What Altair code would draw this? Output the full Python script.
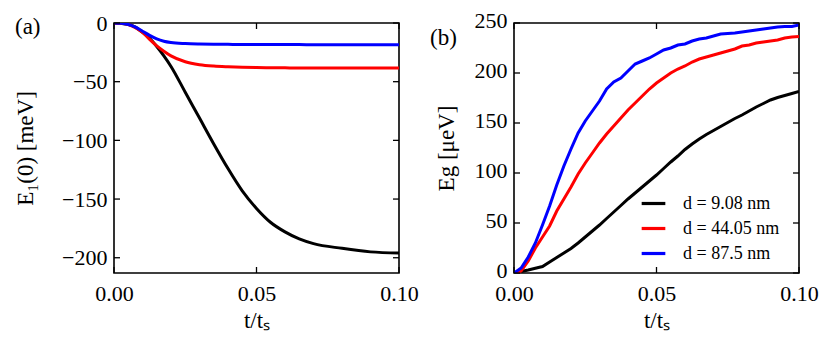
import altair as alt
import pandas as pd

labels = ["d = 9.08 nm", "d = 44.05 nm", "d = 87.5 nm"]
colors = ["#000000", "#ff0000", "#0000ff"]

# Panel (a): E1(0) [meV] vs t/ts
t_a = [0, 0.0025, 0.005, 0.0075, 0.01, 0.0125, 0.015, 0.0175, 0.02, 0.025, 0.03,
       0.035, 0.04, 0.045, 0.05, 0.055, 0.06, 0.065, 0.07, 0.08, 0.09, 0.1]
a_black = [0, -0.3, -1.2, -3.5, -8, -13, -20, -28, -37, -59, -81,
           -103, -124, -143, -158, -170, -178, -184, -188, -192, -195, -196]
a_red = [0, -0.3, -1.3, -4, -8, -14, -19.5, -24, -28, -33, -35.5,
         -36.7, -37.3, -37.7, -38, -38.1, -38.2, -38.3, -38.3, -38.4, -38.4, -38.4]
a_blue = [0, -0.3, -1.3, -3.5, -7, -10.5, -13.5, -15.5, -16.6, -17.5, -17.9,
          -18.1, -18.2, -18.3, -18.3, -18.4, -18.4, -18.4, -18.5, -18.5, -18.5, -18.5]

# Panel (b): Eg [ueV] vs t/ts
t_b = [0, 0.0025, 0.005, 0.0075, 0.01, 0.0125, 0.015, 0.0175, 0.02, 0.0225,
       0.025, 0.0275, 0.03, 0.0325, 0.035, 0.0375, 0.04, 0.0425, 0.045, 0.0475,
       0.05, 0.0525, 0.055, 0.0575, 0.06, 0.0625, 0.065, 0.0675, 0.07, 0.0725,
       0.075, 0.0775, 0.08, 0.0825, 0.085, 0.0875, 0.09, 0.0925, 0.095, 0.0975, 0.1]
b_black = [0, 1.5, 3, 4.8, 6.5, 11, 15.5, 20, 24.5, 30,
           36, 42, 48, 54.5, 61, 67.5, 74, 80, 86, 92,
           98, 104.5, 111, 117, 123.5, 129, 134, 138.5, 142.5, 146.5,
           150.5, 154.5, 158, 162, 166, 169.5, 173, 175.5, 177.5, 179.5, 181.5]
b_red = [0, 2, 12, 25, 36, 47, 62, 74, 86, 99,
         110, 120, 130, 139, 147, 155, 163, 170, 177, 184,
         190, 195, 200, 204, 207, 211, 214, 216, 218, 220,
         222, 224, 227, 228, 230, 231, 232, 233, 235, 236, 236.5]
b_blue = [0, 5, 16, 30, 48, 67, 88, 107, 124, 140,
          152, 162, 172, 184, 191, 195, 202, 209, 212, 215,
          219, 223, 225, 228, 229, 232, 234, 235, 237, 239,
          239.5, 240, 241, 242, 243, 244, 245, 246, 246.5, 246.5, 248]

x_ticks = [0, 0.05, 0.1]
y_ticks_a = [0, -50, -100, -150, -200]
y_ticks_b = [0, 50, 100, 150, 200, 250]


def long_df(t, series):
    rows = []
    for lab, vals in zip(labels, series):
        for ti, v in zip(t, vals):
            rows.append({"t": ti, "E": v, "d": lab})
    return pd.DataFrame(rows)


df_a = long_df(t_a, [a_black, a_red, a_blue])
df_b = long_df(t_b, [b_black, b_red, b_blue])

FONT = "Liberation Serif"
TICK = 6
W, H = 285, 250


def panel(df, ydomain, yvals, ytitle, tpad, ylaboff, interp, legend, tag, tagx, tagy):
    xs = alt.Scale(domain=[0, 0.1], nice=False, zero=False)
    ys = alt.Scale(domain=ydomain, nice=False, zero=False)
    common = dict(ticks=False, domain=False, grid=False, labelFlush=False,
                  labelFont=FONT, titleFont=FONT, labelFontSize=22, titleFontSize=23,
                  labelColor="black", titleColor="black", titleFontWeight="normal")
    xax = alt.Axis(values=x_ticks, format=".2f", title="t/tₛ", labelPadding=10,
                   titlePadding=5, **common)
    yax = alt.Axis(values=yvals, format="d", title=ytitle, labelPadding=7,
                   titlePadding=tpad, labelOffset=ylaboff, **common)
    X = alt.X("t:Q", scale=xs, axis=xax)
    Y = alt.Y("E:Q", scale=ys, axis=yax)
    col = alt.Color("d:N", scale=alt.Scale(domain=labels, range=colors), sort=labels,
                    legend=legend)
    lines = alt.Chart(df).mark_line(strokeWidth=3, interpolate=interp, clip=True).encode(
        x=X, y=Y, color=col, order=alt.Order("t:Q"),
    )
    xt = alt.Chart(pd.DataFrame({"t": x_ticks}))
    yt = alt.Chart(pd.DataFrame({"E": yvals}))
    rule = dict(color="black", strokeWidth=1.3)
    bottom = xt.mark_rule(**rule).encode(x=X, y=alt.value(H), y2=alt.value(H - TICK))
    top = xt.mark_rule(**rule).encode(x=X, y=alt.value(0), y2=alt.value(TICK))
    lft = yt.mark_rule(**rule).encode(y=Y, x=alt.value(0), x2=alt.value(TICK))
    rgt = yt.mark_rule(**rule).encode(y=Y, x=alt.value(W - TICK), x2=alt.value(W))
    tag_chart = alt.Chart(pd.DataFrame({"s": [tag]})).mark_text(
        font=FONT, fontSize=23, align="left", baseline="middle", color="black"
    ).encode(text="s:N", x=alt.value(tagx), y=alt.value(tagy))
    return alt.layer(lines, bottom, top, lft, rgt, tag_chart).properties(width=W, height=H)


left = panel(df_a, [-213, 0], y_ticks_a, "E₁(0) [meV]", 24, 0,
             "monotone", None, "(a)", -99, 4)

leg = alt.Legend(orient="none", legendX=126, legendY=167, title=None,
                 symbolType="stroke", symbolSize=560, symbolStrokeWidth=3.2,
                 labelFont=FONT, labelFontSize=18, labelOffset=16, rowPadding=2,
                 labelColor="black", padding=0)

right = panel(df_b, [0, 250], y_ticks_b, "Eg [μeV]", 16, -3,
              "linear", leg, "(b)", -84, 15)

chart = alt.hconcat(left, right, spacing=9).resolve_scale(
    color="independent"
).configure_view(
    stroke="black", strokeWidth=1.6
).properties(
    padding={"left": 5, "top": 0, "right": 0, "bottom": 0},
    background="white"
)

chart.save("out.html", embed_options={"renderer": "svg", "actions": False})
